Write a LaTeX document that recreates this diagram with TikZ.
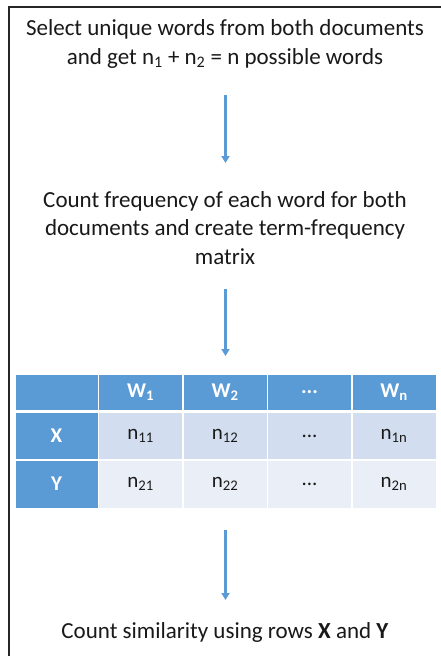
\documentclass[tikz,border=0pt]{standalone}
\usepackage{fontspec}
\setmainfont{Carlito}
\usetikzlibrary{arrows.meta}
\definecolor{hblue}{HTML}{5B9BD5}
\definecolor{rowa}{HTML}{D2DEEF}
\definecolor{rowb}{HTML}{EAEFF7}
\begin{document}
\begin{tikzpicture}[x=1pt,y=-1pt,
  txt/.style={align=center,font=\fontsize{23}{28.5}\selectfont,text=black!90,inner sep=0pt},
  flow/.style={draw=hblue,line width=2.4pt,-{Triangle[length=7pt,width=8pt]}},
  hcell/.style={fill=hblue,draw=white,line width=1pt,minimum width=84pt,inner sep=0pt,text=white,font=\fontsize{21}{22}\selectfont\bfseries},
  acell/.style={fill=rowa,draw=white,line width=1pt,minimum width=84pt,inner sep=0pt,text=black!90,font=\fontsize{21}{22}\selectfont},
  bcell/.style={fill=rowb,draw=white,line width=1pt,minimum width=84pt,inner sep=0pt,text=black!90,font=\fontsize{21}{22}\selectfont}]
\useasboundingbox (0,0) rectangle (440,656);
\fill[white] (0,0) rectangle (440,656);
\draw[black!85,line width=1.6pt] (8.8,657) -- (8.8,7.2) -- (441,7.2);
% texts
\node[txt] (t1) at (225,44) {Select unique words from both documents\\and get n\textsubscript{1} + n\textsubscript{2} = n possible words};
\node[txt] (t2) at (225,228) {Count frequency of each word for both\\documents and create term-frequency\\matrix};
\node[txt] (t4) at (225,632) {Count similarity using rows \textbf{X} and \textbf{Y}};
% table
\node[hcell,minimum width=83pt,minimum height=36pt] (h0) at (56.5,392.5) {};
\node[hcell,minimum height=36pt] (h1) at (140.5,392.5) {W\textsubscript{1}};
\node[hcell,minimum height=36pt] (h2) at (225,392.5) {W\textsubscript{2}};
\node[hcell,minimum height=36pt] (h3) at (309.5,392.5) {...};
\node[hcell,minimum height=36pt] (h4) at (394,392.5) {W\textsubscript{n}};
\node[hcell,minimum width=83pt,minimum height=47pt] (x0) at (56.5,436) {X};
\node[acell,minimum height=47pt] (x1) at (140.5,436) {n\textsubscript{11}};
\node[acell,minimum height=47pt] (x2) at (225,436) {n\textsubscript{12}};
\node[acell,minimum height=47pt] (x3) at (309.5,436) {...};
\node[acell,minimum height=47pt] (x4) at (394,436) {n\textsubscript{1n}};
\node[hcell,minimum width=83pt,minimum height=48pt] (y0) at (56.5,484) {Y};
\node[bcell,minimum height=48pt] (y1) at (140.5,484) {n\textsubscript{21}};
\node[bcell,minimum height=48pt] (y2) at (225,484) {n\textsubscript{22}};
\node[bcell,minimum height=48pt] (y3) at (309.5,484) {...};
\node[bcell,minimum height=48pt] (y4) at (394,484) {n\textsubscript{2n}};
\draw[white,line width=2pt] (h0.south west) -- (h4.south east);
% arrows
\coordinate (a1s) at (225.5,95);
\coordinate (a1e) at (225.5,163);
\coordinate (a2s) at (225.5,289);
\coordinate (a2e) at (225.5,356);
\coordinate (a3s) at (225.5,530);
\coordinate (a3e) at (225.5,600);
\draw[flow] (a1s) -- (a1e);
\draw[flow] (a2s) -- (a2e);
\draw[flow] (a3s) -- (a3e);
\end{tikzpicture}
\end{document}
